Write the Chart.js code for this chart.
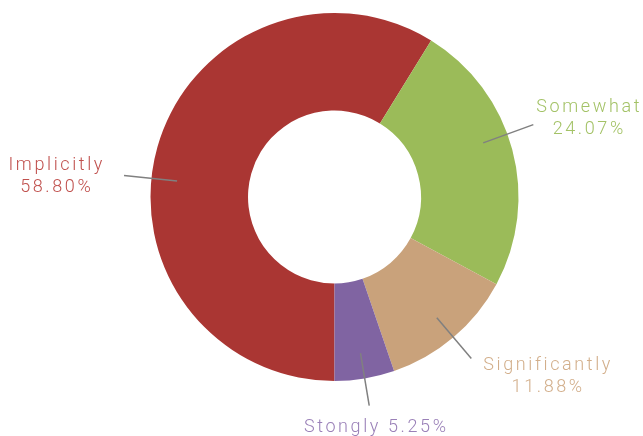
<!DOCTYPE html>
<html lang="en">
<head>
<meta charset="UTF-8">
<title>Doughnut</title>
<script src="https://cdn.jsdelivr.net/npm/chart.js@4.4.4/dist/chart.umd.min.js"></script>
<style>
  html, body { margin: 0; padding: 0; background: #fff; }
  #wrap { width: 643px; height: 436px; position: relative; }
</style>
</head>
<body>
<div id="wrap"><canvas id="chart"></canvas></div>
<script>
const labels = ['Implicitly', 'Somewhat', 'Significantly', 'Stongly'];
const shares = [58.80, 24.07, 11.88, 5.25];
const sliceColors = ['#aa3633', '#9bbb59', '#c9a27b', '#8064a2'];
const textColors = ['#c0504d', '#a3c266', '#d2ae8a', '#9a80b8'];

// Leader lines + two-line labels, drawn from each arc's own geometry.
// angleNudge (degrees) shifts a leader off the exact mid-angle, like the original.
const leaderLabels = {
  id: 'leaderLabels',
  afterDatasetsDraw(chart, args, opts) {
    const ctx = chart.ctx;
    const meta = chart.getDatasetMeta(0);
    ctx.save();
    ctx.font = '300 18px Roboto';
    ctx.letterSpacing = '2.6px';
    ctx.textBaseline = 'middle';
    ctx.textAlign = 'center';
    meta.data.forEach((arc, i) => {
      const mid = (arc.startAngle + arc.endAngle) / 2 + (opts.angleNudge[i] || 0) * Math.PI / 180;
      const cx = arc.x, cy = arc.y;
      const r1 = arc.outerRadius * 0.86;
      const r2 = arc.outerRadius * 1.15;
      const dx = Math.cos(mid), dy = Math.sin(mid);
      const x1 = cx + dx * r1, y1 = cy + dy * r1;
      const x2 = cx + dx * r2, y2 = cy + dy * r2;
      ctx.strokeStyle = '#808080';
      ctx.lineWidth = 1.5;
      ctx.beginPath();
      ctx.moveTo(x1, y1);
      ctx.lineTo(x2, y2);
      ctx.stroke();

      ctx.fillStyle = textColors[i];
      const pct = shares[i].toFixed(2) + '%';
      if (dy > 0.95) {
        // near the bottom: single line under the leader
        ctx.fillText(labels[i] + ' ' + pct, x2 + 7, y2 + 22);
        return;
      }
      const w = Math.max(ctx.measureText(labels[i]).width, ctx.measureText(pct).width);
      let bx, by;
      if (dx < 0) {
        bx = x2 - 19 - w / 2;
        by = y2 - 10;
      } else if (dy > 0.5) {
        bx = x2 + 12 + w / 2;
        by = y2 + 7;
      } else {
        bx = x2 + 3 + w / 2;
        by = y2 - 17;
      }
      ctx.fillText(labels[i], bx, by);
      ctx.fillText(pct, bx, by + 22);
    });
    ctx.restore();
  }
};

new Chart(document.getElementById('chart'), {
  type: 'doughnut',
  data: {
    labels: labels,
    datasets: [{
      data: shares,
      backgroundColor: sliceColors,
      borderWidth: 0,
    }],
  },
  options: {
    responsive: true,
    maintainAspectRatio: false,
    animation: false,
    rotation: 180,
    cutout: '47%',
    layout: { padding: { left: 150, right: 124, top: 13, bottom: 55 } },
    plugins: {
      legend: { display: false },
      tooltip: { enabled: false },
      leaderLabels: { angleNudge: [-10, -5, 0, 0] },
    },
  },
  plugins: [leaderLabels],
});
</script>
</body>
</html>
